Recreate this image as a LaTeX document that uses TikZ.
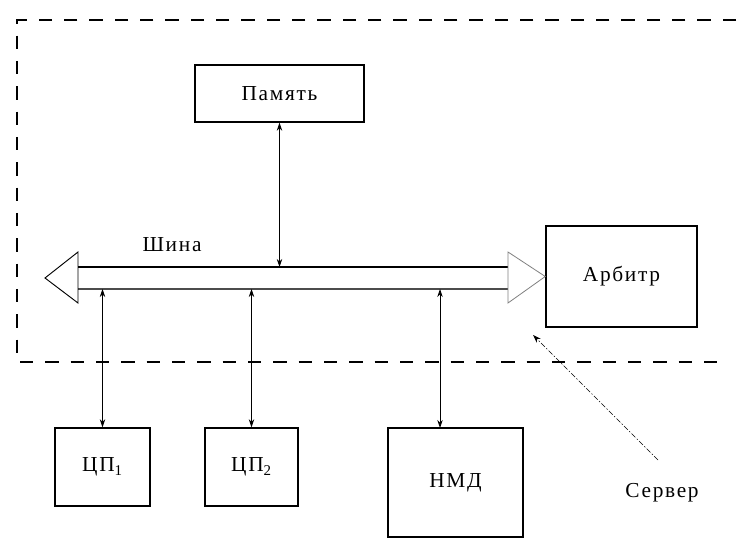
\documentclass[tikz,border=0pt]{standalone}
\usepackage{fontspec}
\setmainfont{Liberation Serif}[LetterSpace=8]
\usetikzlibrary{arrows.meta}
\begin{document}
\begin{tikzpicture}[x=0.75pt,y=-0.75pt,
  blk/.style={draw,line width=1.1pt,inner sep=0pt,font=\fontsize{16}{18}\selectfont},
  link/.style={line width=0.6pt,{Stealth[length=6pt,width=4pt]}-{Stealth[length=6pt,width=4pt]}},
  frame/.style={line width=1.3pt,dash pattern=on 10pt off 9pt},
  lbl/.style={font=\fontsize{16}{18}\selectfont}]
\useasboundingbox (0,0) rectangle (740,538);
% server frame
\coordinate (fA) at (736,20);
\coordinate (fB) at (17,20);
\coordinate (fC) at (17,362);
\coordinate (fD) at (718,362);
\draw[frame] (fA) -- (fB) -- (fC) -- (fD);
% boxes
\node[blk,minimum width=169pt*0.75,minimum height=57pt*0.75] (mem) at (279.5,93.5) {Память};
\node[blk,minimum width=151pt*0.75,minimum height=101pt*0.75] (arb) at (621.5,276.5) {Арбитр};
\node[blk,minimum width=95pt*0.75,minimum height=78pt*0.75] (cp1) at (102.5,467) {ЦП\textsubscript{1}};
\node[blk,minimum width=93pt*0.75,minimum height=78pt*0.75] (cp2) at (251.5,467) {ЦП\textsubscript{2}};
\node[blk,minimum width=135pt*0.75,minimum height=109pt*0.75] (nmd) at (455.5,482.5) {НМД};
% bus
\coordinate (bl1) at (78,267);
\coordinate (br1) at (508,267);
\coordinate (bl2) at (78,289);
\coordinate (br2) at (508,289);
\coordinate (ltip) at (45,278);
\coordinate (lt) at (78,252);
\coordinate (lb) at (78,303);
\coordinate (rt) at (508,252);
\coordinate (rb) at (508,303);
\coordinate (rtip) at (arb.west);
\draw[line width=0.9pt] (bl1) -- (br1);
\draw[line width=0.8pt,black!70] (bl2) -- (br2);
\draw[line width=0.7pt] (lt) -- (ltip) -- (lb) -- cycle;
\draw[line width=0.6pt,gray] (rt) -- (rtip) -- (rb) -- cycle;
\node[lbl] (bus) at (172,245) {Шина};
% links
\draw[link] (mem.south) -- (mem.south |- bl1);
\draw[link] (cp1.north) -- (cp1.north |- bl2);
\draw[link] (cp2.north) -- (cp2.north |- bl2);
\coordinate (nmdtop) at (440,428);
\draw[link] (nmdtop) -- (nmdtop |- bl2);
% server label
\node[lbl] (srv) at (662,493) {Сервер};
\coordinate (srvtip) at (533,335);
\coordinate (srvtail) at (658,460);
\draw[line width=0.5pt,dash pattern=on 4pt off 1.5pt on 1pt off 1.5pt,-{Stealth[length=6pt,width=4pt]}] (srvtail) -- (srvtip);
\end{tikzpicture}
\end{document}
